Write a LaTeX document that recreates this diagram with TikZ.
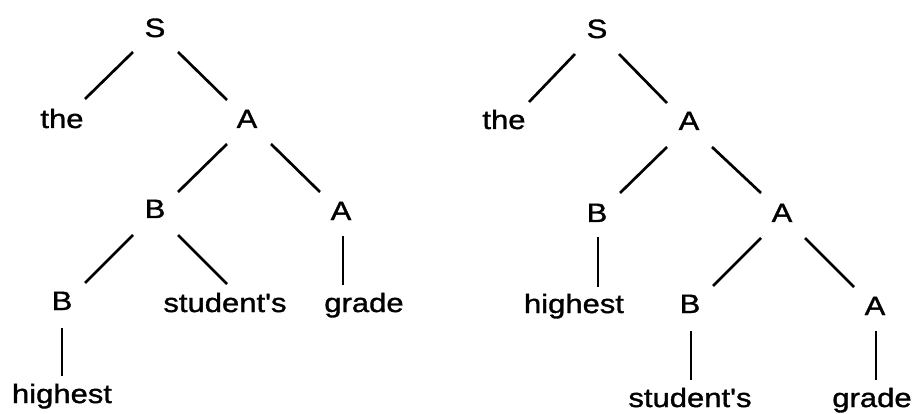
\documentclass[tikz,border=0pt]{standalone}
\usepackage{fontspec}
\setmainfont[FakeStretch=1.17,FakeBold=1.3,Ligatures=TeXOff]{Liberation Sans}
\begin{document}
\begin{tikzpicture}[x=1pt,y=-1pt,
  lbl/.style={inner sep=0pt,anchor=base,font=\fontsize{26.5}{30}\selectfont},
  edge/.style={line width=2.7pt}]
\useasboundingbox (0,0) rectangle (915,414);
% left tree
\node[lbl] (lS)  at (155,37)  {S};
\node[lbl] (lthe) at (62,128) {the};
\node[lbl] (lA1) at (247,128) {A};
\node[lbl] (lB1) at (155,218) {B};
\node[lbl] (lA2) at (341,220) {A};
\node[lbl] (lB2) at (62,310)  {B};
\node[lbl] (lst) at (225,312) {student's};
\node[lbl] (lgr) at (364,312) {grade};
\node[lbl] (lhi) at (62,403)  {highest};
\draw[edge] ([shift={(-22,15)}]lS.base) -- ([shift={(23,-29)}]lthe.base);
\draw[edge] ([shift={(23,15)}]lS.base) -- ([shift={(-20,-28)}]lA1.base);
\draw[edge] ([shift={(-20,16)}]lA1.base) -- ([shift={(23,-26)}]lB1.base);
\draw[edge] ([shift={(24,16)}]lA1.base) -- ([shift={(-21,-28)}]lA2.base);
\draw[edge] ([shift={(-22,17)}]lB1.base) -- ([shift={(23,-27)}]lB2.base);
\draw[edge] ([shift={(23,17)}]lB1.base) -- ([shift={(2,-28)}]lst.base);
\draw[edge] ([shift={(2,16)}]lA2.base) -- ([shift={(-21,-27)}]lgr.base);
\draw[edge] ([shift={(0,18)}]lB2.base) -- ([shift={(0,-27)}]lhi.base);
% right tree
\node[lbl] (rS)  at (597,38)  {S};
\node[lbl] (rthe) at (504,129) {the};
\node[lbl] (rA1) at (689,130) {A};
\node[lbl] (rB1) at (597,222) {B};
\node[lbl] (rA2) at (782,222) {A};
\node[lbl] (rhi) at (574,313) {highest};
\node[lbl] (rB2) at (690,313) {B};
\node[lbl] (rA3) at (875,315) {A};
\node[lbl] (rst) at (690,407) {student's};
\node[lbl] (rgr) at (872,407) {grade};
\draw[edge] ([shift={(-22,16)}]rS.base) -- ([shift={(25,-27)}]rthe.base);
\draw[edge] ([shift={(22,16)}]rS.base) -- ([shift={(-22,-27)}]rA1.base);
\draw[edge] ([shift={(-22,17)}]rA1.base) -- ([shift={(23,-29)}]rB1.base);
\draw[edge] ([shift={(23,17)}]rA1.base) -- ([shift={(-21,-29)}]rA2.base);
\draw[edge] ([shift={(1,15)}]rB1.base) -- ([shift={(24,-26)}]rhi.base);
\draw[edge] ([shift={(-21,16)}]rA2.base) -- ([shift={(23,-27)}]rB2.base);
\draw[edge] ([shift={(23,16)}]rA2.base) -- ([shift={(-21,-28)}]rA3.base);
\draw[edge] ([shift={(1,18)}]rB2.base) -- ([shift={(1,-27)}]rst.base);
\draw[edge] ([shift={(1,16)}]rA3.base) -- ([shift={(4,-27)}]rgr.base);
\end{tikzpicture}
\end{document}
